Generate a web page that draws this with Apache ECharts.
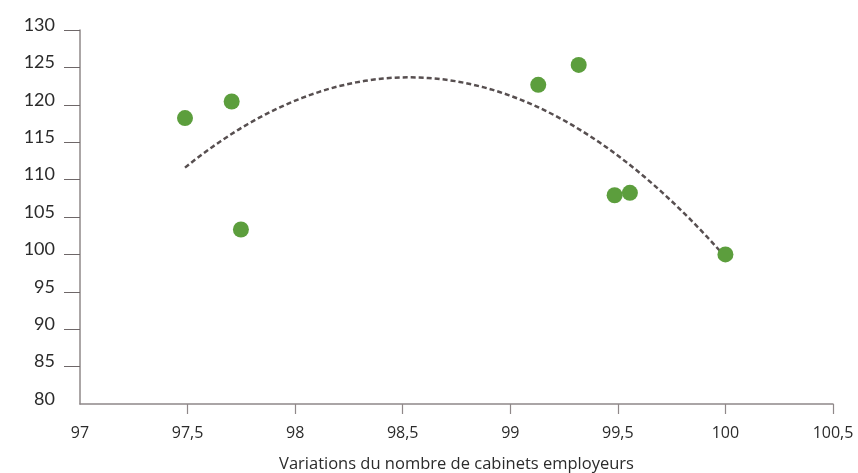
<!DOCTYPE html>
<html>
<head>
<meta charset="utf-8">
<script src="https://cdn.jsdelivr.net/npm/echarts@6/dist/echarts.min.js"></script>
<style>
  html, body { margin: 0; padding: 0; background: #ffffff; }
  #chart { width: 858px; height: 473px; }
</style>
</head>
<body>
<div id="chart"></div>
<script>
// Observations: change in number of employer firms (x) vs. index (y)
const xValues = [97.488, 97.705, 97.748, 99.13, 99.318, 99.485, 99.556, 100.0];
const yValues = [118.23, 120.44, 103.33, 122.67, 125.33, 107.91, 108.23, 100.0];

// Axis ticks
const xTicks = [97, 97.5, 98, 98.5, 99, 99.5, 100, 100.5];
const yTicks = [80, 85, 90, 95, 100, 105, 110, 115, 120, 125, 130];

const xAxisTitle = 'Variations du nombre de cabinets employeurs';

// Least-squares quadratic trend fitted to the observations
function fitQuadratic(xs, ys) {
  const n = xs.length;
  const x0 = xs.reduce((a, b) => a + b, 0) / n;
  let s = [0, 0, 0, 0, 0], t = [0, 0, 0];
  for (let i = 0; i < n; i++) {
    const u = xs[i] - x0;
    for (let k = 0; k <= 4; k++) s[k] += Math.pow(u, k);
    for (let k = 0; k <= 2; k++) t[k] += Math.pow(u, k) * ys[i];
  }
  // Solve the 3x3 normal equations by Cramer's rule
  const M = [[s[0], s[1], s[2]], [s[1], s[2], s[3]], [s[2], s[3], s[4]]];
  const det = m => m[0][0]*(m[1][1]*m[2][2]-m[1][2]*m[2][1]) - m[0][1]*(m[1][0]*m[2][2]-m[1][2]*m[2][0]) + m[0][2]*(m[1][0]*m[2][1]-m[1][1]*m[2][0]);
  const D = det(M);
  const coef = [0, 1, 2].map(j => {
    const mj = M.map((row, r) => row.map((v, c) => c === j ? t[r] : v));
    return det(mj) / D;
  });
  return x => { const u = x - x0; return coef[0] + coef[1]*u + coef[2]*u*u; };
}

const trend = fitQuadratic(xValues, yValues);
const xMin = Math.min(...xValues), xMax = Math.max(...xValues);
const trendData = [];
const steps = 60;
for (let i = 0; i <= steps; i++) {
  const x = xMin + (xMax - xMin) * i / steps;
  trendData.push([x, trend(x)]);
}

const fmt = v => String(v).replace('.', ',');

const chart = echarts.init(document.getElementById('chart'));
chart.setOption({
  animation: false,
  backgroundColor: '#ffffff',
  grid: { left: 80, right: 25, top: 30, bottom: 69, containLabel: false, outerBoundsMode: 'none' },
  xAxis: {
    type: 'value',
    min: 97, max: 100.5, interval: 0.5,
    name: xAxisTitle,
    nameLocation: 'middle',
    nameGap: 52,
    nameTextStyle: { fontFamily: 'Open Sans', fontSize: 16.5, color: '#2b2b2b' },
    axisLine: { show: true, onZero: false, lineStyle: { color: '#8f8889', width: 1.5 } },
    axisTick: { show: true, length: 10, customValues: xTicks.slice(1), lineStyle: { color: '#8f8889', width: 1.2 } },
    axisLabel: {
      margin: 21, fontFamily: 'Open Sans', fontSize: 16, color: '#2b2b2b',
      customValues: xTicks, formatter: fmt
    },
    splitLine: { show: false }
  },
  yAxis: {
    type: 'value',
    min: 80, max: 130, interval: 5,
    axisLine: { show: true, onZero: false, lineStyle: { color: '#8f8889', width: 1.5 } },
    axisTick: { show: true, length: 16, customValues: yTicks.slice(1), lineStyle: { color: '#6e6768', width: 1 } },
    axisLabel: {
      margin: 25, fontFamily: 'Lato', fontSize: 18, color: '#2b2b2b',
      customValues: yTicks, verticalAlign: 'bottom', lineHeight: 10
    },
    splitLine: { show: false }
  },
  series: [
    {
      type: 'line',
      data: trendData,
      showSymbol: false,
      symbol: 'none',
      smooth: false,
      lineStyle: { color: '#574f50', width: 2.5, type: [5, 3] },
      z: 2
    },
    {
      type: 'scatter',
      data: xValues.map((x, i) => [x, yValues[i]]),
      symbolSize: 16,
      itemStyle: { color: '#5c9e3d', opacity: 1 },
      z: 3
    }
  ]
});
</script>
</body>
</html>
